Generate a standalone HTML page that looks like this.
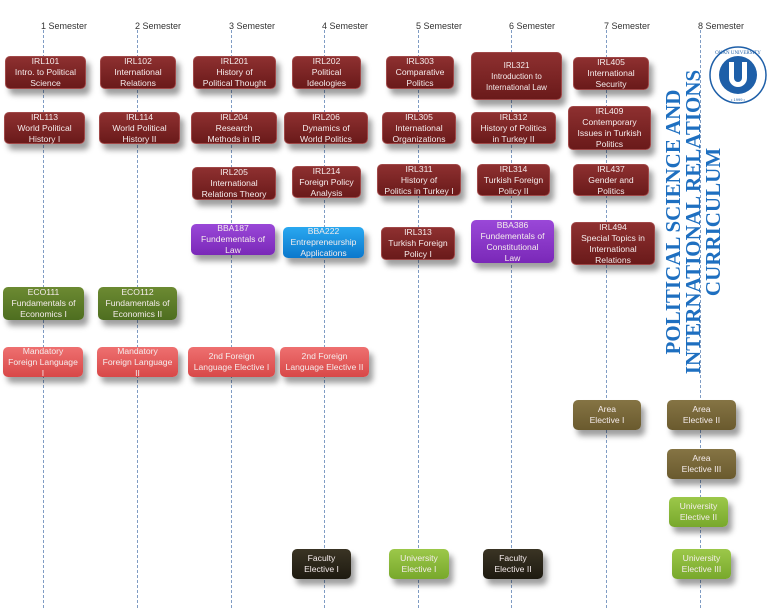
<!DOCTYPE html>
<html><head><meta charset="utf-8"><style>
body{margin:0;width:778px;height:614px;background:#fff;position:relative;overflow:hidden;font-family:"Liberation Sans",sans-serif}
.l{position:absolute;top:30px;height:578px;border-left:1px dashed #7f9cc4;width:0}
.s{position:absolute;top:21px;font-size:9px;color:#333}
.b{position:absolute;display:flex;align-items:center;justify-content:center;text-align:center;color:#f5ecec;font-size:8.6px;line-height:11px;border-radius:5px;box-shadow:4px 6px 6px rgba(0,0,0,.38)}
.m{background:linear-gradient(#8e3030,#6a1a1a);border:1px solid #a04848}
.p{background:linear-gradient(#9a48d8,#7a28b8)}
.bl{background:linear-gradient(#2aa8f0,#0b78cc)}
.g{background:linear-gradient(#6c8a32,#4e6e20)}
.r{background:linear-gradient(#ee7070,#d84848)}
.o{background:linear-gradient(#857444,#6a5a2e)}
.lg{background:linear-gradient(#9cc84a,#78a82c)}
.k{background:linear-gradient(#3a3424,#1e1a10)}
.t{position:absolute;left:693px;top:222px;transform:translate(-50%,-50%) rotate(-90deg);font-family:"Liberation Serif",serif;font-weight:bold;color:#1e6fc0;font-size:21px;line-height:20px;text-align:center;white-space:nowrap;background:#fff;padding:0 4px}
</style></head><body>
<div class="l" style="left:43px"></div><div class="l" style="left:137px"></div><div class="l" style="left:231px"></div><div class="l" style="left:324px"></div><div class="l" style="left:418px"></div><div class="l" style="left:511px"></div><div class="l" style="left:606px"></div>
<div class="s" style="left:41px">1 Semester</div><div class="s" style="left:135px">2 Semester</div><div class="s" style="left:229px">3 Semester</div><div class="s" style="left:322px">4 Semester</div><div class="s" style="left:416px">5 Semester</div><div class="s" style="left:509px">6 Semester</div><div class="s" style="left:604px">7 Semester</div><div class="s" style="left:698px">8 Semester</div>
<div class="t">POLITICAL SCIENCE AND<br>INTERNATIONAL RELATIONS<br>CURRICULUM</div>
<div class="l" style="left:700px"></div>
<svg style="position:absolute;left:708px;top:45px;z-index:2" width="60" height="60" viewBox="0 0 60 60">
<circle cx="30" cy="30" r="28" fill="#fff" stroke="#1e5fa8" stroke-width="1.5"/>
<circle cx="30" cy="30" r="19" fill="#1e5fa8"/>
<path d="M21 17 V33 a9 9 0 0 0 18 0 V17 h-5 V33 a4 4 0 0 1 -8 0 V17z" fill="#fff"/>
<text x="30" y="9" font-size="5" text-anchor="middle" fill="#1e5fa8" font-family="Liberation Serif">OKAN UNIVERSITY</text>
<text x="30" y="56" font-size="4" text-anchor="middle" fill="#1e5fa8">• 1999 •</text>
</svg>
<div class="b m" style="left:5px;top:56px;width:79px;height:31px">IRL101<br>Intro. to Political<br>Science</div>
<div class="b m" style="left:100px;top:56px;width:74px;height:31px">IRL102<br>International<br>Relations</div>
<div class="b m" style="left:193px;top:56px;width:81px;height:31px">IRL201<br>History of<br>Political Thought</div>
<div class="b m" style="left:292px;top:56px;width:67px;height:31px">IRL202<br>Political<br>Ideologies</div>
<div class="b m" style="left:386px;top:56px;width:66px;height:31px">IRL303<br>Comparative<br>Politics</div>
<div class="b m" style="left:471px;top:52px;width:89px;height:46px;font-size:8px">IRL321<br>Introduction to<br>International Law</div>
<div class="b m" style="left:573px;top:57px;width:74px;height:31px">IRL405<br>International<br>Security</div>
<div class="b m" style="left:4px;top:112px;width:79px;height:30px">IRL113<br>World Political<br>History I</div>
<div class="b m" style="left:99px;top:112px;width:79px;height:30px">IRL114<br>World Political<br>History II</div>
<div class="b m" style="left:191px;top:112px;width:84px;height:30px">IRL204<br>Research<br>Methods in IR</div>
<div class="b m" style="left:284px;top:112px;width:82px;height:30px">IRL206<br>Dynamics of<br>World Politics</div>
<div class="b m" style="left:382px;top:112px;width:72px;height:30px">IRL305<br>International<br>Organizations</div>
<div class="b m" style="left:471px;top:112px;width:83px;height:30px">IRL312<br>History of Politics<br>in Turkey II</div>
<div class="b m" style="left:568px;top:106px;width:81px;height:42px">IRL409<br>Contemporary<br>Issues in Turkish<br>Politics</div>
<div class="b m" style="left:192px;top:167px;width:82px;height:31px">IRL205<br>International<br>Relations Theory</div>
<div class="b m" style="left:292px;top:166px;width:67px;height:30px">IRL214<br>Foreign Policy<br>Analysis</div>
<div class="b m" style="left:377px;top:164px;width:82px;height:30px">IRL311<br>History of<br>Politics in Turkey I</div>
<div class="b m" style="left:477px;top:164px;width:71px;height:30px">IRL314<br>Turkish Foreign<br>Policy II</div>
<div class="b m" style="left:573px;top:164px;width:74px;height:30px">IRL437<br>Gender and<br>Politics</div>
<div class="b p" style="left:191px;top:224px;width:84px;height:31px">BBA187<br>Fundementals of<br>Law</div>
<div class="b bl" style="left:283px;top:227px;width:81px;height:31px">BBA222<br>Entrepreneurship<br>Applications</div>
<div class="b m" style="left:381px;top:227px;width:72px;height:31px">IRL313<br>Turkish Foreign<br>Policy I</div>
<div class="b p" style="left:471px;top:220px;width:83px;height:43px">BBA386<br>Fundementals of<br>Constitutional<br>Law</div>
<div class="b m" style="left:571px;top:222px;width:82px;height:41px">IRL494<br>Special Topics in<br>International<br>Relations</div>
<div class="b g" style="left:3px;top:287px;width:81px;height:33px">ECO111<br>Fundamentals of<br>Economics I</div>
<div class="b g" style="left:98px;top:287px;width:79px;height:33px">ECO112<br>Fundamentals of<br>Economics II</div>
<div class="b r" style="left:3px;top:347px;width:80px;height:30px">Mandatory<br>Foreign Language<br>I</div>
<div class="b r" style="left:97px;top:347px;width:81px;height:30px">Mandatory<br>Foreign Language<br>II</div>
<div class="b r" style="left:188px;top:347px;width:87px;height:30px">2nd Foreign<br>Language Elective I</div>
<div class="b r" style="left:280px;top:347px;width:89px;height:30px">2nd Foreign<br>Language Elective II</div>
<div class="b o" style="left:573px;top:400px;width:68px;height:30px">Area<br>Elective I</div>
<div class="b o" style="left:667px;top:400px;width:69px;height:30px">Area<br>Elective II</div>
<div class="b o" style="left:667px;top:449px;width:69px;height:30px">Area<br>Elective III</div>
<div class="b lg" style="left:669px;top:497px;width:59px;height:30px">University<br>Elective II</div>
<div class="b k" style="left:292px;top:549px;width:59px;height:30px">Faculty<br>Elective I</div>
<div class="b lg" style="left:389px;top:549px;width:60px;height:30px">University<br>Elective I</div>
<div class="b k" style="left:483px;top:549px;width:60px;height:30px">Faculty<br>Elective II</div>
<div class="b lg" style="left:672px;top:549px;width:59px;height:30px">University<br>Elective III</div>
</body></html>
